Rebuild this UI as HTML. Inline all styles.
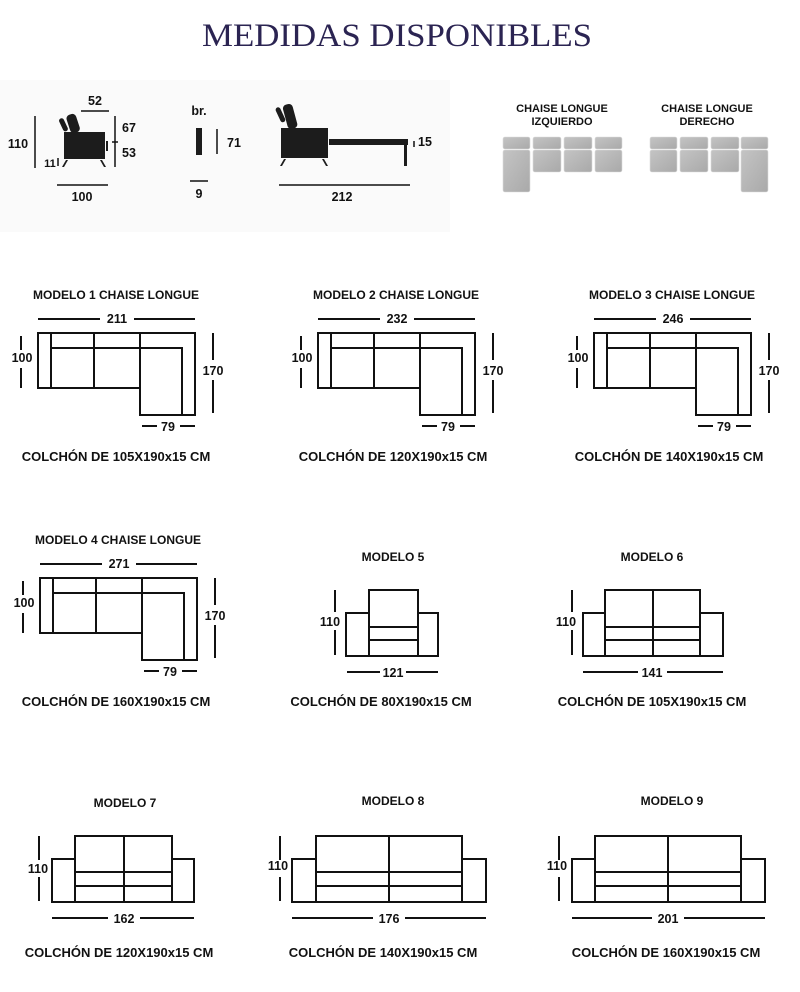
<!DOCTYPE html>
<html><head><meta charset="utf-8"><style>
html,body{margin:0;padding:0;background:#fff;}
svg{display:block;}
text{font-family:"Liberation Sans",sans-serif;font-weight:bold;fill:#111;}
.t{font-size:12px;text-anchor:middle;}
.c{font-size:13px;text-anchor:middle;}
.n{font-size:12.5px;text-anchor:middle;}
</style></head><body>
<svg width="800" height="992" viewBox="0 0 800 992" xmlns="http://www.w3.org/2000/svg">
<defs>
<linearGradient id="tg" x1="0" y1="0" x2="1" y2="1"><stop offset="0" stop-color="#c4c4c4"/><stop offset="1" stop-color="#a9a9a9"/></linearGradient>
<g id="ch" fill="none" stroke="#111" stroke-width="2">
  <path d="M38 333H195V415H140V388H38Z"/>
  <path d="M51 333V388M94 333V388M140 333V388M51 348H182V415"/>
</g>
<g id="chdim" stroke="#111" stroke-width="2">
  <line x1="21" y1="336" x2="21" y2="350"/><line x1="21" y1="368" x2="21" y2="388"/>
  <line x1="213" y1="333" x2="213" y2="360"/><line x1="213" y1="380" x2="213" y2="413"/>
  <line x1="142" y1="426" x2="157" y2="426"/><line x1="180" y1="426" x2="195" y2="426"/>
</g>
</defs>

<text x="397" y="46" text-anchor="middle" textLength="390" lengthAdjust="spacingAndGlyphs" style="font-family:'Liberation Serif',serif;font-weight:normal;font-size:33px;fill:#2b2452;">MEDIDAS DISPONIBLES</text>

<rect x="0" y="80" width="450" height="152" fill="#fafafa"/>
<g stroke="#111" stroke-width="1.5" fill="none">
  <line x1="81" y1="111" x2="109" y2="111"/>
  <line x1="35" y1="116" x2="35" y2="168"/>
  <line x1="115" y1="116" x2="115" y2="167"/>
  <line x1="112" y1="142" x2="118" y2="142"/>
  <line x1="58" y1="158" x2="58" y2="166"/>
  <line x1="57" y1="185" x2="108" y2="185"/>
  <line x1="217" y1="129" x2="217" y2="154"/>
  <line x1="190" y1="181" x2="208" y2="181"/>
  <line x1="414" y1="141" x2="414" y2="147"/>
  <line x1="279" y1="185" x2="410" y2="185"/>
</g>
<g fill="#1c1c1c">
  <rect x="61" y="118" width="5" height="14" rx="2.5" transform="rotate(-25 63 125)"/>
  <rect x="68" y="114" width="10" height="19" rx="4" transform="rotate(-18 73 123)"/>
  <rect x="64" y="132" width="41" height="27"/>
  <rect x="106" y="141" width="2" height="10"/>
  <path d="M66 160h2l-4 7h-2z"/><path d="M100 160h2l4 7h-2z"/>
  <rect x="196" y="128" width="6" height="27"/>
  <rect x="278" y="107" width="5" height="16" rx="2.5" transform="rotate(-25 280 115)"/>
  <rect x="285" y="104" width="10" height="25" rx="4" transform="rotate(-15 290 116)"/>
  <rect x="281" y="128" width="47" height="30"/>
  <rect x="329" y="139" width="79" height="6"/>
  <rect x="404" y="145" width="3" height="21"/>
  <path d="M284 159h2l-4 7h-2z"/><path d="M322 159h2l4 7h-2z"/>
</g>
<text class="n" x="95" y="105">52</text>
<text class="n" x="18" y="148">110</text>
<text class="n" x="129" y="132">67</text>
<text class="n" x="129" y="157">53</text>
<text class="n" x="50" y="167" style="font-size:11px">11</text>
<text class="n" x="82" y="201">100</text>
<text class="n" x="199" y="115">br.</text>
<text class="n" x="234" y="147">71</text>
<text class="n" x="199" y="198">9</text>
<text class="n" x="425" y="146">15</text>
<text class="n" x="342" y="201">212</text>

<text class="t" x="562" y="112" style="font-size:11px">CHAISE LONGUE</text>
<text class="t" x="562" y="125" style="font-size:11px">IZQUIERDO</text>
<text class="t" x="707" y="112" style="font-size:11px">CHAISE LONGUE</text>
<text class="t" x="707" y="125" style="font-size:11px">DERECHO</text>
<g fill="url(#tg)" stroke="#dcdcdc" stroke-width="0.6">
  <rect x="503" y="137" width="27" height="12" rx="2"/><rect x="533" y="137" width="28" height="12" rx="2"/>
  <rect x="564" y="137" width="28" height="12" rx="2"/><rect x="595" y="137" width="27" height="12" rx="2"/>
  <rect x="503" y="150" width="27" height="42" rx="2"/><rect x="533" y="150" width="28" height="22" rx="2"/>
  <rect x="564" y="150" width="28" height="22" rx="2"/><rect x="595" y="150" width="27" height="22" rx="2"/>
  <rect x="650" y="137" width="27" height="12" rx="2"/><rect x="680" y="137" width="28" height="12" rx="2"/>
  <rect x="711" y="137" width="28" height="12" rx="2"/><rect x="741" y="137" width="27" height="12" rx="2"/>
  <rect x="650" y="150" width="27" height="22" rx="2"/><rect x="680" y="150" width="28" height="22" rx="2"/>
  <rect x="711" y="150" width="28" height="22" rx="2"/><rect x="741" y="150" width="27" height="42" rx="2"/>
</g>

<g>
<text class="t" x="116" y="299">MODELO 1 CHAISE LONGUE</text>
<line x1="38" y1="319" x2="100" y2="319" stroke="#111" stroke-width="2"/><line x1="134" y1="319" x2="195" y2="319" stroke="#111" stroke-width="2"/>
<text class="n" x="117" y="323">211</text>
<use href="#ch"/><use href="#chdim"/>
<text class="n" x="22" y="362">100</text><text class="n" x="213" y="375">170</text><text class="n" x="168" y="431">79</text>
<text class="c" x="116" y="461">COLCHÓN DE 105X190x15 CM</text>
</g>
<g transform="translate(280,0)">
<text class="t" x="116" y="299">MODELO 2 CHAISE LONGUE</text>
<line x1="38" y1="319" x2="100" y2="319" stroke="#111" stroke-width="2"/><line x1="134" y1="319" x2="195" y2="319" stroke="#111" stroke-width="2"/>
<text class="n" x="117" y="323">232</text>
<use href="#ch"/><use href="#chdim"/>
<text class="n" x="22" y="362">100</text><text class="n" x="213" y="375">170</text><text class="n" x="168" y="431">79</text>
<text class="c" x="113" y="461">COLCHÓN DE 120X190x15 CM</text>
</g>
<g transform="translate(556,0)">
<text class="t" x="116" y="299">MODELO 3 CHAISE LONGUE</text>
<line x1="38" y1="319" x2="100" y2="319" stroke="#111" stroke-width="2"/><line x1="134" y1="319" x2="195" y2="319" stroke="#111" stroke-width="2"/>
<text class="n" x="117" y="323">246</text>
<use href="#ch"/><use href="#chdim"/>
<text class="n" x="22" y="362">100</text><text class="n" x="213" y="375">170</text><text class="n" x="168" y="431">79</text>
<text class="c" x="113" y="461">COLCHÓN DE 140X190x15 CM</text>
</g>
<g transform="translate(2,245)">
<text class="t" x="116" y="299">MODELO 4 CHAISE LONGUE</text>
<line x1="38" y1="319" x2="100" y2="319" stroke="#111" stroke-width="2"/><line x1="134" y1="319" x2="195" y2="319" stroke="#111" stroke-width="2"/>
<text class="n" x="117" y="323">271</text>
<use href="#ch"/><use href="#chdim"/>
<text class="n" x="22" y="362">100</text><text class="n" x="213" y="375">170</text><text class="n" x="168" y="431">79</text>
<text class="c" x="114" y="461">COLCHÓN DE 160X190x15 CM</text>
</g>

<text class="t" x="393" y="561">MODELO 5</text>
<g fill="none" stroke="#111" stroke-width="2">
  <path d="M346 613H369V656H346Z"/><path d="M418 613H438V656H418Z"/>
  <path d="M369 590H418V656H369Z"/><path d="M369 627H418M369 640H418"/>
  <path d="M335 590V612M335 630V655M347 672H380M406 672H438"/>
</g>
<text class="n" x="330" y="626">110</text><text class="n" x="393" y="677">121</text>
<text class="c" x="381" y="706">COLCHÓN DE 80X190x15 CM</text>

<text class="t" x="652" y="561">MODELO 6</text>
<g fill="none" stroke="#111" stroke-width="2">
  <path d="M583 613H605V656H583Z"/><path d="M700 613H723V656H700Z"/>
  <path d="M605 590H700V656H605Z"/><path d="M605 627H700M605 640H700M653 590V656"/>
  <path d="M572 590V612M572 630V655M583 672H638M667 672H723"/>
</g>
<text class="n" x="566" y="626">110</text><text class="n" x="652" y="677">141</text>
<text class="c" x="652" y="706">COLCHÓN DE 105X190x15 CM</text>

<text class="t" x="125" y="807">MODELO 7</text>
<g fill="none" stroke="#111" stroke-width="2">
  <path d="M52 859H75V902H52Z"/><path d="M172 859H194V902H172Z"/>
  <path d="M75 836H172V902H75Z"/><path d="M75 872H172M75 886H172M124 836V902"/>
  <path d="M39 836V860M39 877V901M52 918H108M140 918H194"/>
</g>
<text class="n" x="38" y="873">110</text><text class="n" x="124" y="923">162</text>
<text class="c" x="119" y="957">COLCHÓN DE 120X190x15 CM</text>

<text class="t" x="393" y="805">MODELO 8</text>
<g fill="none" stroke="#111" stroke-width="2">
  <path d="M292 859H316V902H292Z"/><path d="M462 859H486V902H462Z"/>
  <path d="M316 836H462V902H316Z"/><path d="M316 872H462M316 886H462M389 836V902"/>
  <path d="M280 836V860M280 877V901M292 918H373M405 918H486"/>
</g>
<text class="n" x="278" y="870">110</text><text class="n" x="389" y="923">176</text>
<text class="c" x="383" y="957">COLCHÓN DE 140X190x15 CM</text>

<text class="t" x="672" y="805">MODELO 9</text>
<g fill="none" stroke="#111" stroke-width="2">
  <path d="M572 859H595V902H572Z"/><path d="M741 859H765V902H741Z"/>
  <path d="M595 836H741V902H595Z"/><path d="M595 872H741M595 886H741M668 836V902"/>
  <path d="M559 836V860M559 877V901M572 918H652M684 918H765"/>
</g>
<text class="n" x="557" y="870">110</text><text class="n" x="668" y="923">201</text>
<text class="c" x="666" y="957">COLCHÓN DE 160X190x15 CM</text>
</svg>
</body></html>
